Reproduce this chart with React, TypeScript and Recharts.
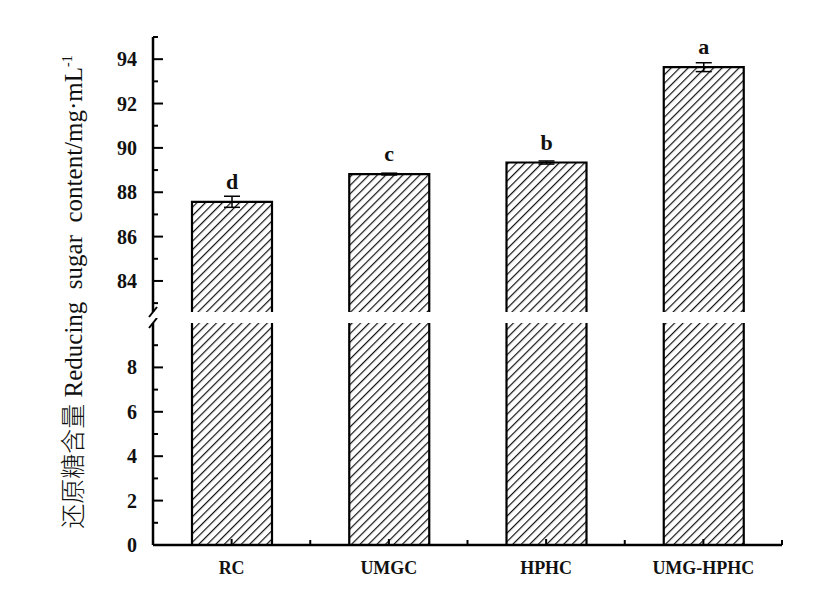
import React from "react";
import { Bar, BarChart, ErrorBar, LabelList, XAxis, YAxis } from "recharts";

const categories = ["RC", "UMGC", "HPHC", "UMG-HPHC"];
const sugarValues = [87.57, 88.82, 89.34, 93.64];
const sugarErrors = [0.25, 0.04, 0.07, 0.2];
const sigLetters = ["d", "c", "b", "a"];

const upperDomain: [number, number] = [82.6, 95];
const lowerDomain: [number, number] = [0, 10];
const upperTicks = [82.6, 83, 84, 85, 86, 87, 88, 89, 90, 91, 92, 93, 94, 95];
const lowerTicks = [0, 1, 2, 3, 4, 5, 6, 7, 8, 9, 10];

const data = categories.map((name, i) => ({
  name,
  value: sugarValues[i],
  err: sugarErrors[i],
  letter: sigLetters[i],
}));

const SERIF = '"Liberation Serif", "DejaVu Serif", "Times New Roman", serif';
const TICK_MARGIN = 16;
const WIDTH = 824;
const LEFT = 153;
const RIGHT = 42;
const BAND = (WIDTH - LEFT - RIGHT) / categories.length;

function makeYTick(breakAt: number) {
  return (props: any) => {
    const { x, y, payload } = props;
    const v = payload.value;
    const ax = x + TICK_MARGIN;
    if (v === breakAt) {
      return (
        <line x1={ax - 4} y1={y + 5} x2={ax + 4} y2={y - 5} stroke="#000" strokeWidth={2} />
      );
    }
    const major = v % 2 === 0;
    return (
      <g>
        <line x1={ax} x2={ax + (major ? 10 : 5)} y1={y} y2={y} stroke="#000" strokeWidth={2} />
        {major && (
          <text
            x={x}
            y={y}
            dy="0.35em"
            textAnchor="end"
            fontFamily={SERIF}
            fontWeight="bold"
            fontSize={20}
            fill="#111"
          >
            {v}
          </text>
        )}
      </g>
    );
  };
}

const XTick = (props: any) => {
  const { x, y, payload } = props;
  const ay = y - TICK_MARGIN;
  return (
    <g>
      <line x1={x} x2={x} y1={ay} y2={ay - 6} stroke="#000" strokeWidth={2} />
      <line x1={x + BAND / 2} x2={x + BAND / 2} y1={ay} y2={ay - 5} stroke="#000" strokeWidth={2} />
      <text
        x={x}
        y={y}
        dy="0.71em"
        textAnchor="middle"
        fontFamily={SERIF}
        fontWeight="bold"
        fontSize={18}
        fill="#111"
      >
        {payload.value}
      </text>
    </g>
  );
};

function makeShape(patternId: string) {
  return (props: any) => {
    const { x, y, width, height } = props;
    return (
      <g>
        <rect x={x} y={y} width={width} height={height} fill={`url(#${patternId})`} />
        <path
          d={`M${x},${y + height} L${x},${y} L${x + width},${y} L${x + width},${y + height}`}
          fill="none"
          stroke="#000"
          strokeWidth={2.2}
        />
      </g>
    );
  };
}

function Hatch({ id }: { id: string }) {
  return (
    <defs>
      <pattern id={id} patternUnits="userSpaceOnUse" width={6} height={6} patternTransform="rotate(45)">
        <rect width={6} height={6} fill="#fff" />
        <line x1={0} y1={0} x2={0} y2={6} stroke="#111" strokeWidth={2.4} />
      </pattern>
    </defs>
  );
}

export default function App() {
  return (
    <div style={{ position: "absolute", left: 0, top: 0, width: 824, height: 592, background: "#fff" }}>
      <div style={{ position: "absolute", left: 0, top: 0 }}>
        <BarChart
          width={WIDTH}
          height={318}
          data={data}
          margin={{ top: 37, right: RIGHT, left: LEFT - 60, bottom: 6 }}
        >
          <Hatch id="hatchUp" />
          <XAxis dataKey="name" hide />
          <YAxis
            type="number"
            width={60}
            domain={upperDomain}
            ticks={upperTicks}
            interval={0}
            tickSize={0}
            tickMargin={TICK_MARGIN}
            tickLine={false}
            axisLine={{ stroke: "#000", strokeWidth: 2.5 }}
            tick={makeYTick(upperDomain[0])}
          />
          <Bar dataKey="value" barSize={80} shape={makeShape("hatchUp")} isAnimationActive={false}>
            <ErrorBar dataKey="err" width={8} stroke="#000" strokeWidth={1.5} direction="y" />
            <LabelList
              dataKey="letter"
              position="top"
              offset={13}
              fill="#111"
              fontFamily={SERIF}
              fontWeight="bold"
              fontSize={22}
            />
          </Bar>
        </BarChart>
      </div>
      <div style={{ position: "absolute", left: 0, top: 318 }}>
        <BarChart
          width={WIDTH}
          height={274}
          data={data}
          margin={{ top: 5, right: RIGHT, left: LEFT - 60, bottom: 7 }}
        >
          <Hatch id="hatchLow" />
          <XAxis
            dataKey="name"
            height={40}
            interval={0}
            tickSize={0}
            tickMargin={TICK_MARGIN}
            tickLine={false}
            axisLine={{ stroke: "#000", strokeWidth: 2.5 }}
            tick={XTick}
          />
          <YAxis
            type="number"
            width={60}
            domain={lowerDomain}
            allowDataOverflow
            ticks={lowerTicks}
            interval={0}
            tickSize={0}
            tickMargin={TICK_MARGIN}
            tickLine={false}
            axisLine={{ stroke: "#000", strokeWidth: 2.5 }}
            tick={makeYTick(lowerDomain[1])}
          />
          <Bar dataKey="value" barSize={80} shape={makeShape("hatchLow")} isAnimationActive={false} />
        </BarChart>
      </div>
      <div
        style={{
          position: "absolute",
          left: 72,
          top: 292,
          transform: "translate(-50%, -50%) rotate(-90deg)",
          whiteSpace: "nowrap",
          fontFamily: '"Liberation Serif", "Noto Sans CJK SC", serif',
          fontSize: 25,
          color: "#111",
          lineHeight: 1,
        }}
      >
        <span style={{ fontFamily: '"Noto Sans CJK SC", sans-serif', fontWeight: 300 }}>还原糖含量</span>
        {" Reducing\u00a0\u00a0sugar\u00a0\u00a0content/mg·mL"}
        <sup style={{ fontSize: 14 }}>-1</sup>
      </div>
    </div>
  );
}
